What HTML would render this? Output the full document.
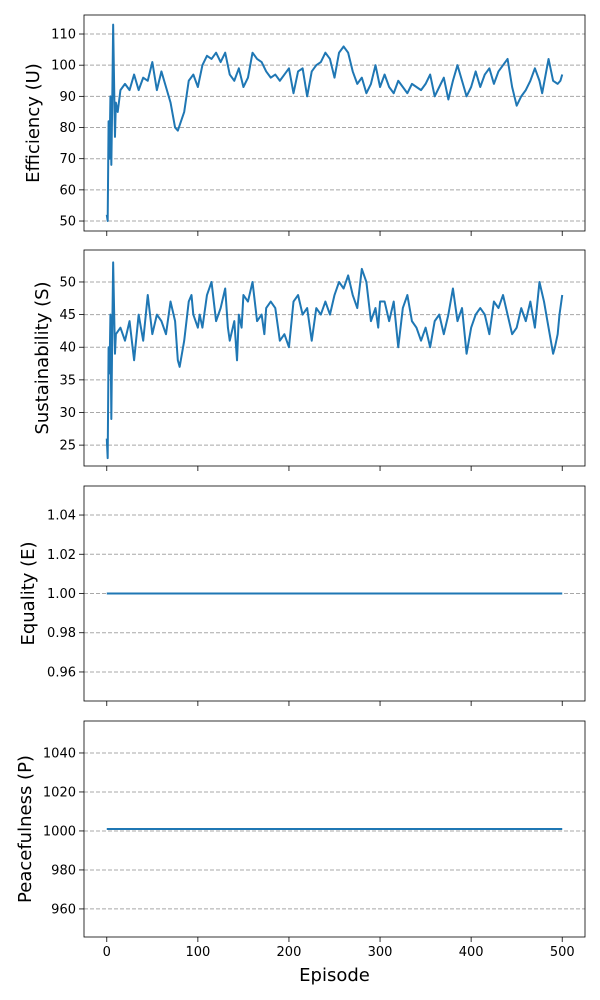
<!DOCTYPE html>
<html><head><meta charset="utf-8">
<style>
body{margin:0;background:#fff;}
svg{display:block;font-family:"DejaVu Sans","Liberation Sans",sans-serif;}
</style></head>
<body>
<svg id="chart" width="600" height="1000" viewBox="0 0 600 1000"></svg>
<script>
const effEpisodes=[0,1,2,3,4,5,6,7,9,10,12,15,20,25,30,35,40,45,50,55,60,65,70,75,78,85,90,95,100,105,110,115,120,125,130,135,140,145,150,155,160,165,170,175,180,185,190,195,200,205,210,215,220,225,230,235,240,245,250,255,260,265,270,275,280,285,290,295,300,305,310,315,320,325,330,335,340,345,350,355,360,365,370,375,380,385,390,395,400,405,410,415,420,425,430,435,440,445,450,455,460,465,470,475,478,485,490,495,498,500];
const effValues=[52,50,82,70,90,68,88,113,77,88,85,92,94,92,97,92,96,95,101,92,98,93,88,80,79,85,95,97,93,100,103,102,104,101,104,97,95,99,93,96,104,102,101,98,96,97,95,97,99,91,98,99,90,98,100,101,104,102,96,104,106,104,98,94,96,91,94,100,93,97,93,91,95,93,91,94,93,92,94,97,90,93,96,89,95,100,95,90,93,98,93,97,99,94,98,100,102,93,87,90,92,95,99,95,91,102,95,94,95,97];
const susEpisodes=[0,1,2,3,4,5,6,7,9,10,15,20,25,30,35,40,45,50,55,60,65,70,75,78,80,85,90,93,95,100,102,105,110,115,120,125,130,133,135,140,143,145,148,150,155,160,165,170,173,175,180,185,190,195,200,205,210,215,220,225,230,235,240,245,250,255,260,265,270,275,280,285,290,295,298,300,305,310,315,320,325,330,335,340,345,350,355,360,365,370,375,380,385,390,395,400,405,410,415,420,425,430,435,440,445,450,455,460,465,470,475,480,485,490,492,495,497,500];
const susValues=[26,23,40,36,45,29,42,53,39,42,43,41,44,38,45,41,48,42,45,44,42,47,44,38,37,41,47,48,45,43,45,43,48,50,44,46,49,43,41,44,38,45,43,48,47,50,44,45,42,46,47,46,41,42,40,47,48,45,46,41,46,45,47,45,48,50,49,51,48,46,52,50,44,46,43,47,47,44,47,40,46,48,44,43,41,43,40,44,45,42,45,49,44,46,39,43,45,46,45,42,47,46,48,45,42,43,46,44,47,43,50,47,43,39,40,42,45,48,44,41,49,48,43,46,42,44,43,45];
const eqEpisodes=[0,500];
const eqValues=[1.0,1.0];
const peEpisodes=[0,500];
const peValues=[1001,1001];
const xTicks=[0,100,200,300,400,500];

const svg=document.getElementById('chart');
const NS='http://www.w3.org/2000/svg';
function mk(tag,attrs,parent){const e=document.createElementNS(NS,tag);for(const k in attrs)e.setAttribute(k,attrs[k]);(parent||svg).appendChild(e);return e;}
const L=84,R=585;
function xs(v){return L+(v+25)*(R-L)/550;}

const panels=[
 {name:'efficiency',top:15,bot:231,ymin:46.8,ymax:116.1,ticks:[50,60,70,80,90,100,110],fmt:v=>String(v),label:'Efficiency (U)',lx:33,ex:effEpisodes,ey:effValues},
 {name:'sustainability',top:250,bot:466,ymin:21.8,ymax:54.9,ticks:[25,30,35,40,45,50],fmt:v=>String(v),label:'Sustainability (S)',lx:42,ex:susEpisodes,ey:susValues},
 {name:'equality',top:486,bot:701,ymin:0.9452,ymax:1.0548,ticks:[0.96,0.98,1.00,1.02,1.04],fmt:v=>v.toFixed(2),label:'Equality (E)',lx:28,ex:eqEpisodes,ey:eqValues},
 {name:'peacefulness',top:721,bot:937,ymin:945.6,ymax:1056.4,ticks:[960,980,1000,1020,1040],fmt:v=>String(v),label:'Peacefulness (P)',lx:25,ex:peEpisodes,ey:peValues}
];
panels.forEach((p,i)=>{
  const g=mk('g',{});
  
  
  const ys=v=>p.bot-(v-p.ymin)*(p.bot-p.top)/(p.ymax-p.ymin);
  p.ticks.forEach(t=>{
    const y=ys(t);
    const gl=mk('line',{x1:L,x2:R,y1:y,y2:y,stroke:'#a8a8a8','stroke-width':1,'stroke-dasharray':'4,2'},g);
    
    
    mk('line',{x1:L-5,x2:L,y1:y,y2:y,stroke:'#000','stroke-width':0.8},g);
    const tx=mk('text',{x:L-8,y:y+4.5,'text-anchor':'end','font-size':13,fill:'#000'},g);
    tx.textContent=p.fmt(t);
    
    
  });
  xTicks.forEach(t=>{
    const x=xs(t);
    mk('line',{x1:x,x2:x,y1:p.bot,y2:p.bot+5,stroke:'#000','stroke-width':0.8},g);
    if(i===3){
      const tx=mk('text',{x:x,y:p.bot+19,'text-anchor':'middle','font-size':13,fill:'#000'},g);
      tx.textContent=String(t);
      
      
    }
  });
  const d=p.ex.map((e,k)=>(k?'L':'M')+xs(e).toFixed(2)+','+ys(p.ey[k]).toFixed(2)).join(' ');
  const line=mk('path',{d:d,fill:'none',stroke:'#1f77b4','stroke-width':2,'stroke-linejoin':'round'},g);
  
  
  const fr=mk('rect',{x:L,y:p.top,width:R-L,height:p.bot-p.top,fill:'none',stroke:'#000','stroke-width':0.8},g);
  
  
  const cy=(p.top+p.bot)/2;
  const lb=mk('text',{x:0,y:0,transform:`translate(${p.lx+6},${cy}) rotate(-90)`,'text-anchor':'middle','font-size':18,fill:'#000'},g);
  lb.textContent=p.label;
  
  
});
const xl=mk('text',{x:(L+R)/2,y:981,'text-anchor':'middle','font-size':18,fill:'#000'});
xl.textContent='Episode';


</script>
</body></html>
